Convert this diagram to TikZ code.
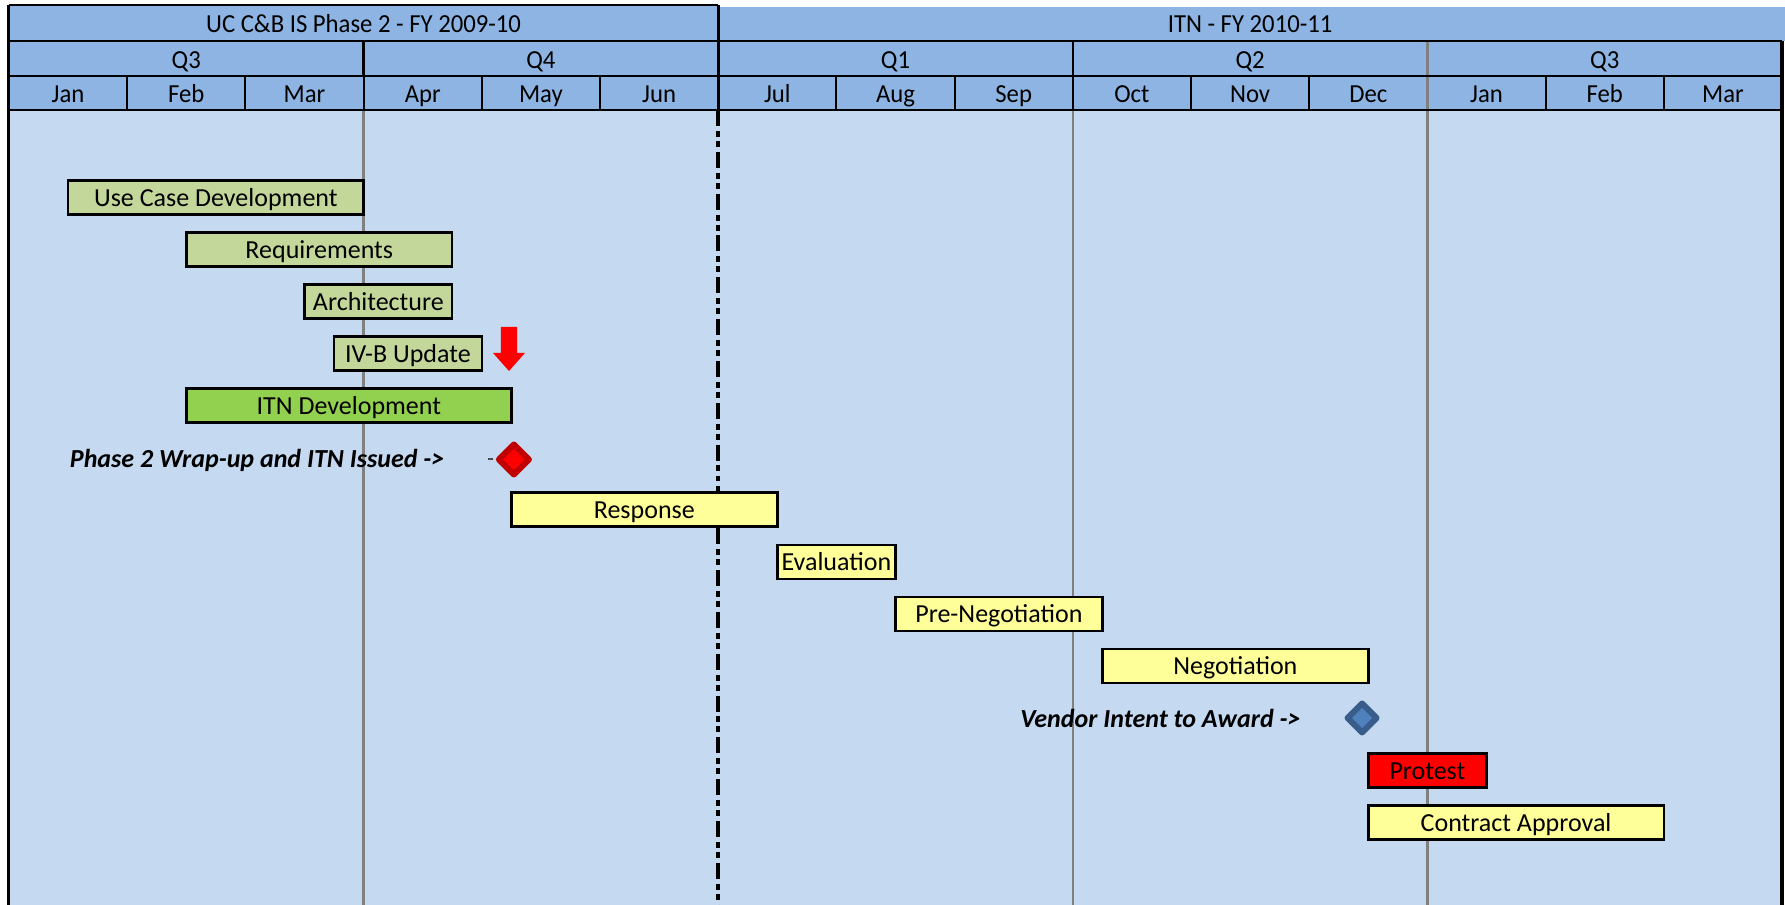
\documentclass[tikz,border=0pt]{standalone}
\usepackage{fontspec}
\setmainfont{Carlito}
\usepackage{tikz}
\usetikzlibrary{shapes,arrows,positioning}

\definecolor{hdrblue}{RGB}{141,180,226}
\definecolor{bodyblue}{RGB}{197,217,241}
\definecolor{gridgray}{RGB}{128,128,128}
\definecolor{taskgreen}{RGB}{196,215,155}
\definecolor{itngreen}{RGB}{146,208,80}
\definecolor{taskyellow}{RGB}{255,255,153}
\definecolor{msred}{RGB}{192,0,0}
\definecolor{msblue}{RGB}{79,129,189}
\definecolor{msbluedark}{RGB}{56,93,138}

\begin{document}
\begin{tikzpicture}[x=23.64mm, y=-0.2mm,
  task/.style={draw=black, line width=0.5mm, inner sep=0pt, outer sep=0pt, anchor=west,
    minimum height=6.8mm, text height=1.0em, text depth=0pt,
    font=\fontsize{14.8}{17}\selectfont},
  hdr/.style={font=\fontsize{14.8}{17}\selectfont, xscale=0.95, anchor=base, inner sep=0pt},
  mile/.style={font=\fontsize{14.8}{17}\selectfont\bfseries\itshape, anchor=base east, inner sep=0pt},
  msdiamond/.style={diamond, line width=1.2mm, line join=round, inner sep=0pt, outer sep=0pt}]
\useasboundingbox (-0.0761,0) rectangle (15.0254,905);

% background
\fill[bodyblue] (0,110) rectangle (15,905);
\fill[hdrblue] (0,5) rectangle (6,41);
\fill[hdrblue] (6,7) rectangle (15.0254,41);
\fill[hdrblue] (0,41) rectangle (15,110);

% quarter lines in the body
\draw[gridgray, line width=0.5mm] (3,110) -- (3,905);
\draw[gridgray, line width=0.5mm] (9,110) -- (9,905);
\draw[gridgray, line width=0.5mm] (12,41) -- (12,905);

% header grid
\foreach \m in {1,2,3,4,5,7,8,9,10,11,13,14}
  \draw[black, line width=0.4mm] (\m,76) -- (\m,110);
\draw[black, line width=0.5mm] (3,41) -- (3,76);
\draw[black, line width=0.5mm] (9,41) -- (9,76);
\draw[black, line width=0.5mm] (0,5) -- (6,5);
\draw[black, line width=0.5mm] (0,41) -- (15,41);
\draw[black, line width=0.5mm] (0,76) -- (15,76);
\draw[black, line width=0.5mm] (0,110) -- (15,110);
\draw[black, line width=0.6mm] (0,5) -- (0,905);
\draw[black, line width=0.8mm] (15,41) -- (15,905);

% fiscal year split
\draw[black, line width=0.55mm] (6,5) -- (6,110);
\draw[black, line width=0.8mm, dash pattern=on 9.1pt off 2.8pt on 3.4pt off 2.3pt on 3.4pt off 2.8pt] (6,110) -- (6,905);

% header texts
\node[hdr] (fy1) at (3,32.5) {UC C\&B IS Phase 2 - FY 2009-10};
\node[hdr] (fy2) at (10.5,32.5) {ITN - FY 2010-11};
\foreach \q [count=\i from 0] in {Q3,Q4,Q1,Q2,Q3}
  \node[hdr] (q\i) at (3*\i+1.5,68.5) {\q};
\foreach \mon [count=\i from 0] in {Jan,Feb,Mar,Apr,May,Jun,Jul,Aug,Sep,Oct,Nov,Dec,Jan,Feb,Mar}
  \node[hdr] (mon\i) at (\i+0.5,102.5) {\mon};

% tasks
\node[task, fill=taskgreen, minimum width=59.1mm] (usecase) at (0.5,197.5) {Use Case Development};
\node[task, fill=taskgreen, minimum width=53.19mm] (req) at (1.5,249.5) {Requirements};
\node[task, fill=taskgreen, minimum width=29.55mm] (arch) at (2.5,301.5) {Architecture};
\node[task, fill=taskgreen, minimum width=29.55mm] (ivb) at (2.75,353.5) {IV-B Update};
\node[task, fill=itngreen, minimum width=65.01mm] (itndev) at (1.5,405.5) {ITN Development};
\node[task, fill=taskyellow, minimum width=53.19mm] (resp) at (4.25,509.5) {Response};
\node[task, fill=taskyellow, minimum width=23.64mm] (eval) at (6.5,562) {Evaluation};
\node[task, fill=taskyellow, minimum width=41.37mm] (preneg) at (7.5,614) {Pre-Negotiation};
\node[task, fill=taskyellow, minimum width=53.19mm] (neg) at (9.25,666) {Negotiation};
\node[task, fill=red, minimum width=23.64mm] (protest) at (11.5,770.5) {Protest};
\node[task, fill=taskyellow, minimum width=59.1mm] (contract) at (11.5,822.5) {Contract Approval};

% red arrow
\fill[red] (4.162,327) -- (4.298,327) -- (4.298,353) -- (4.365,353) -- (4.230,371)
  -- (4.095,353) -- (4.162,353) -- cycle;

% milestones
\node[msdiamond, draw=msred, fill=red, minimum width=6mm, minimum height=6mm] (issued) at (4.272,459.5) {};
\draw[black!70, line width=0.4mm] ([xshift=-1.14mm]issued.west) -- ++(-1.12mm,0);
\node[mile] (issuedtxt) at (3.686,467.5) {Phase 2 Wrap-up and ITN Issued ->};
\node[msdiamond, draw=msbluedark, fill=msblue, minimum width=5.8mm, minimum height=5.8mm] (award) at (11.447,718) {};
\node[mile] (awardtxt) at (10.93,727.5) {Vendor Intent to Award ->};

\end{tikzpicture}
\end{document}
